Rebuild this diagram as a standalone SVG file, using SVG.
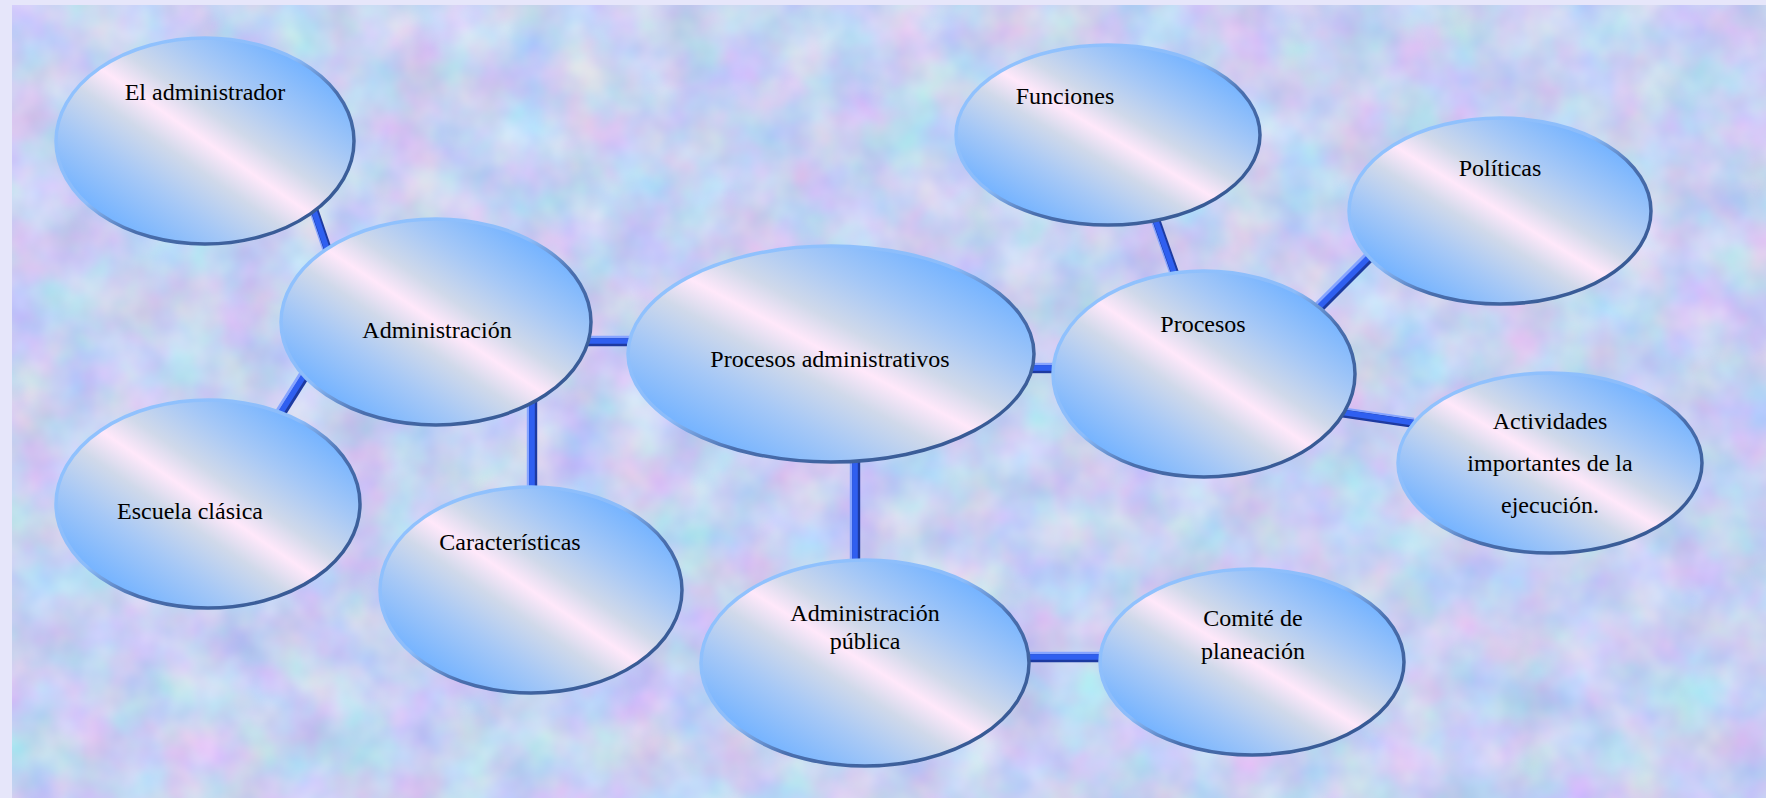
<svg xmlns="http://www.w3.org/2000/svg" xmlns:xlink="http://www.w3.org/1999/xlink" width="1766" height="798" viewBox="0 0 1766 798">
<defs>
<style>
.node{fill:url(#fillG);stroke:url(#strokeG);stroke-width:3.5}
.lbl{font-family:'Liberation Serif','Times New Roman',serif;font-size:24px;fill:#000;text-anchor:middle}
</style>
<linearGradient id="fillG" x1="1" y1="0" x2="0" y2="1">
<stop offset="0.15" stop-color="#76b4ff"/>
<stop offset="0.3" stop-color="#a6c8f6"/>
<stop offset="0.42" stop-color="#d0d9ea"/>
<stop offset="0.5" stop-color="#ffe8fa"/>
<stop offset="0.58" stop-color="#d0d9ea"/>
<stop offset="0.7" stop-color="#a6c8f6"/>
<stop offset="0.85" stop-color="#76b4ff"/>
</linearGradient>
<linearGradient id="strokeG" x1="0" y1="0" x2="1" y2="1">
<stop offset="0" stop-color="#92c4ff"/>
<stop offset="0.45" stop-color="#8cbcfa"/>
<stop offset="0.6" stop-color="#4a6fae"/>
<stop offset="1" stop-color="#2e4f88"/>
</linearGradient>
<filter id="tex" filterUnits="userSpaceOnUse" x="12" y="5" width="1754" height="793" color-interpolation-filters="sRGB">
<feTurbulence type="fractalNoise" baseFrequency="0.018" numOctaves="3" seed="7"/>
<feColorMatrix type="matrix" values="0.3 0 0 0 0.63  0 0.24 0 0 0.7  0 0 0.12 0 0.89  0 0 0 0 1"/>
</filter>
</defs>
<rect x="0" y="0" width="1766" height="798" fill="#e6e6fa"/>
<rect x="12" y="5" width="1754" height="793" fill="#c8d4f4" filter="url(#tex)"/>
<g id="connectors" fill="none" stroke-linecap="butt">
<defs>
<g id="lines">
<line x1="312" y1="205" x2="329" y2="255"/>
<line x1="310" y1="366" x2="276" y2="420"/>
<line x1="532" y1="400" x2="532" y2="492"/>
<line x1="585" y1="341" x2="636" y2="341"/>
<line x1="1028" y1="368" x2="1058" y2="368"/>
<line x1="855" y1="455" x2="855" y2="565"/>
<line x1="1153" y1="213" x2="1176" y2="278"/>
<line x1="1312" y1="314" x2="1376" y2="250"/>
<line x1="1340" y1="412" x2="1415" y2="423"/>
<line x1="1022" y1="657" x2="1106" y2="657"/>
</g>
</defs>
<use xlink:href="#lines" href="#lines" stroke="#86a4ff" stroke-width="8" transform="translate(-1.2,-1.2)"/>
<use xlink:href="#lines" href="#lines" stroke="#1d3aa0" stroke-width="8" transform="translate(1.2,1.2)"/>
<use xlink:href="#lines" href="#lines" stroke="#2f5ff0" stroke-width="5.6"/>
</g>
<g id="n-el-administrador"><ellipse class="node" cx="205" cy="141" rx="149" ry="103"/><text class="lbl" x="205" y="100">El administrador</text></g>
<g id="n-administracion"><ellipse class="node" cx="436" cy="322" rx="155" ry="103"/><text class="lbl" x="437" y="338">Administración</text></g>
<g id="n-procesos-administrativos"><ellipse class="node" cx="831" cy="354" rx="203" ry="108"/><text class="lbl" x="830" y="367">Procesos administrativos</text></g>
<g id="n-procesos"><ellipse class="node" cx="1204" cy="374" rx="151" ry="103"/><text class="lbl" x="1203" y="332">Procesos</text></g>
<g id="n-funciones"><ellipse class="node" cx="1108" cy="135" rx="152" ry="90"/><text class="lbl" x="1065" y="104">Funciones</text></g>
<g id="n-politicas"><ellipse class="node" cx="1500" cy="211" rx="151" ry="93"/><text class="lbl" x="1500" y="176">Políticas</text></g>
<g id="n-actividades"><ellipse class="node" cx="1550" cy="463" rx="152" ry="90"/><text class="lbl" x="1550" y="429">Actividades</text><text class="lbl" x="1550" y="471">importantes de la</text><text class="lbl" x="1550" y="513">ejecución.</text></g>
<g id="n-administracion-publica"><ellipse class="node" cx="865" cy="663" rx="164" ry="103"/><text class="lbl" x="865" y="621">Administración</text><text class="lbl" x="865" y="649">pública</text></g>
<g id="n-comite"><ellipse class="node" cx="1252" cy="662" rx="152" ry="93"/><text class="lbl" x="1253" y="626">Comité de</text><text class="lbl" x="1253" y="659">planeación</text></g>
<g id="n-caracteristicas"><ellipse class="node" cx="531" cy="590" rx="151" ry="103"/><text class="lbl" x="510" y="550">Características</text></g>
<g id="n-escuela-clasica"><ellipse class="node" cx="208" cy="504" rx="152" ry="104"/><text class="lbl" x="190" y="519">Escuela clásica</text></g>
</svg>
